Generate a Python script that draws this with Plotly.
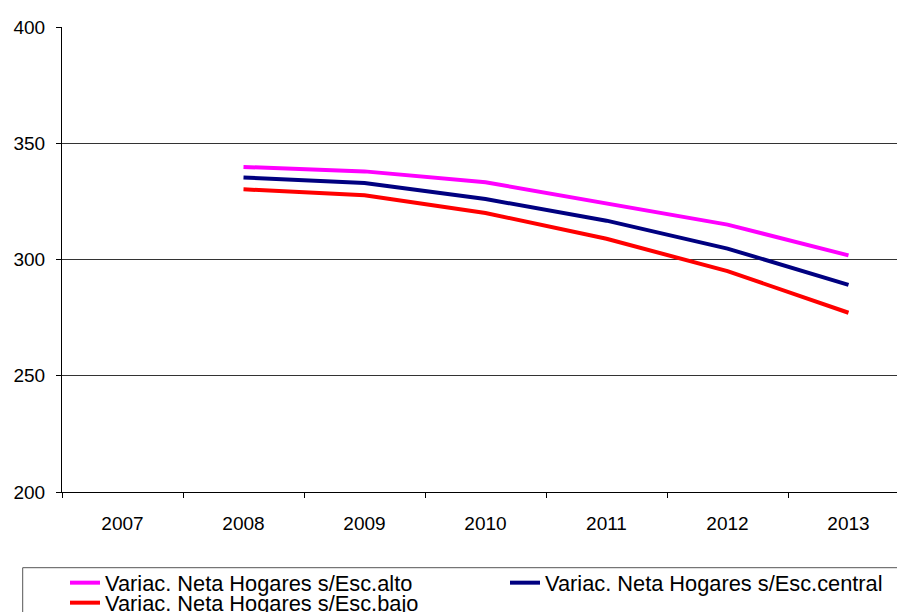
import plotly.graph_objects as go

years = ["2007", "2008", "2009", "2010", "2011", "2012", "2013"]
alto = [None, 339.8, 337.9, 333.2, 324.3, 315.0, 301.8]
central = [None, 335.3, 332.9, 326.0, 316.7, 304.7, 289.1]
bajo = [None, 330.2, 327.6, 320.0, 308.9, 295.0, 277.1]

names = ["Variac. Neta Hogares s/Esc.alto",
         "Variac. Neta Hogares s/Esc.central",
         "Variac. Neta Hogares s/Esc.bajo"]
colors = ["#FF00FF", "#000080", "#FF0000"]
series = [alto, central, bajo]
legends = ["legend", "legend2", "legend3"]

FONT = "Liberation Sans, Arial, sans-serif"

fig = go.Figure()
for name, vals, col, lg in zip(names, series, colors, legends):
    fig.add_trace(go.Scatter(
        x=years, y=vals, name=name, mode="lines",
        line=dict(color=col, width=4), legend=lg, connectgaps=False,
    ))

W, H = 897, 612
L, R, T, B = 62, 0, 27, 120
PW, PH = W - L - R, H - T - B

legend_common = dict(
    xref="container", yref="container", xanchor="left", yanchor="middle",
    bgcolor="rgba(0,0,0,0)", borderwidth=0,
    font=dict(family=FONT, size=21.8, color="black"),
    itemwidth=30,
)

fig.update_layout(
    width=W, height=H,
    margin=dict(l=L, r=R, t=T, b=B, pad=0, autoexpand=False),
    paper_bgcolor="white", plot_bgcolor="white",
    font=dict(family=FONT, size=19, color="black"),
    showlegend=True,
    legend=dict(x=65 / W, y=1 - 583 / H, **legend_common),
    legend2=dict(x=505 / W, y=1 - 583 / H, **legend_common),
    legend3=dict(x=65 / W, y=1 - 603 / H, **legend_common),
    xaxis=dict(
        type="category", categoryorder="array", categoryarray=years,
        range=[-0.5, -0.5 + PW / 121.0], showgrid=False, zeroline=False,
        showline=True, linecolor="black", linewidth=1,
        ticks="outside", tickson="boundaries", ticklen=5, tickcolor="black",
        tickfont=dict(family=FONT, size=19, color="black"), tickangle=0,
        ticklabelstandoff=14, automargin=False,
    ),
    yaxis=dict(
        range=[200, 400], tickvals=[200, 250, 300, 350, 400],
        showgrid=True, gridcolor="#333333", gridwidth=1, zeroline=False,
        showline=True, linecolor="black", linewidth=1,
        ticks="outside", ticklen=5, tickcolor="black",
        tickfont=dict(family=FONT, size=19, color="black"),
        ticklabelstandoff=7, automargin=False,
    ),
    shapes=[dict(
        type="rect", xref="paper", yref="paper",
        x0=(22.7 - L) / PW, x1=1.2,
        y0=(H - B - 640) / PH, y1=(H - B - 567.7) / PH,
        line=dict(color="#555555", width=1), fillcolor="rgba(0,0,0,0)",
        layer="below",
    )],
)

fig.write_html(
    "out.html",
    config={"displayModeBar": False},
    post_script="document.body.style.margin='0';"
                "document.body.style.overflow='hidden';",
)
